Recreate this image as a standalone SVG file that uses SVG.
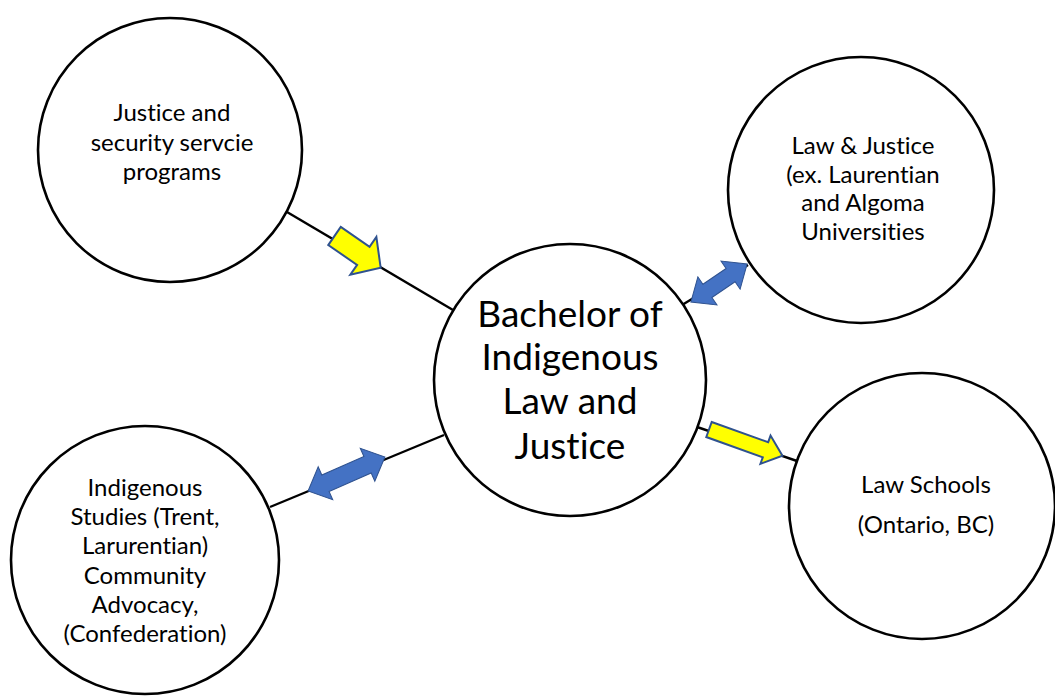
<svg xmlns="http://www.w3.org/2000/svg" width="1055" height="696" viewBox="0 0 1055 696">
<style>
.node{fill:#fff;stroke:#000;stroke-width:2.6}
.t{font-family:Lato,"Open Sans","Liberation Sans",sans-serif;font-size:24px;fill:#000;text-anchor:middle;font-variant-ligatures:none;font-feature-settings:"liga" 0}
.big{font-size:37px}
.ln{stroke:#000;stroke-width:2.4;fill:none}
.ya{fill:#ffff00;stroke:#2f528f;stroke-width:2;stroke-linejoin:miter}
.ba{fill:#4472c4;stroke:#2f528f;stroke-width:1}
</style>
<rect width="1055" height="696" fill="#fff"/>
<g id="connectors">
<line class="ln" x1="287" y1="212" x2="453" y2="310"/>
<line class="ln" x1="682" y1="305" x2="748" y2="265"/>
<line class="ln" x1="270" y1="507" x2="444" y2="435"/>
<line class="ln" x1="697" y1="427" x2="797" y2="461"/>
<polygon class="ya" transform="translate(334.5,236) rotate(34.5)" points="0,-11 35,-11 35,-23 56,0 35,23 35,11 0,11"/>
<polygon class="ba" transform="translate(719,283) rotate(-34.2)" points="-34,0 -14,-17 -14,-8 14,-8 14,-17 34,0 14,17 14,8 -14,8 -14,17"/>
<polygon class="ba" transform="translate(346.5,474) rotate(-23.8)" points="-42,0 -23,-18 -23,-9 23,-9 23,-18 42,0 23,18 23,9 -23,9 -23,18"/>
<polygon class="ya" transform="translate(709,429.5) rotate(19.7)" points="0,-8 60,-8 60,-15 78,0 60,15 60,8 0,8"/>
</g>
<g id="node-justice-security">
<circle class="node" cx="170" cy="150" r="132"/>
<text class="t"><tspan x="172" y="121">Justice and</tspan><tspan x="172" y="151">security servcie</tspan><tspan x="172" y="180">programs</tspan></text>
</g>
<g id="node-law-justice">
<circle class="node" cx="861" cy="190" r="133"/>
<text class="t"><tspan x="863" y="154">Law &amp; Justice</tspan><tspan x="863" y="183">(ex. Laurentian</tspan><tspan x="863" y="211">and Algoma</tspan><tspan x="863" y="240">Universities</tspan></text>
</g>
<g id="node-bachelor">
<circle class="node" cx="570" cy="380" r="136"/>
<text class="t big"><tspan x="570" y="327">Bachelor of</tspan><tspan x="570" y="370">Indigenous</tspan><tspan x="570" y="414">Law and</tspan><tspan x="570" y="459">Justice</tspan></text>
</g>
<g id="node-indigenous-studies">
<circle class="node" cx="145" cy="560" r="134"/>
<text class="t"><tspan x="145" y="496">Indigenous</tspan><tspan x="145" y="525">Studies (Trent,</tspan><tspan x="145" y="554">Larurentian)</tspan><tspan x="145" y="584">Community</tspan><tspan x="145" y="613">Advocacy,</tspan><tspan x="145" y="642">(Confederation)</tspan></text>
</g>
<g id="node-law-schools">
<circle class="node" cx="922" cy="506" r="133"/>
<text class="t"><tspan x="926" y="493">Law Schools</tspan><tspan x="926" y="533">(Ontario, BC)</tspan></text>
</g>
</svg>
